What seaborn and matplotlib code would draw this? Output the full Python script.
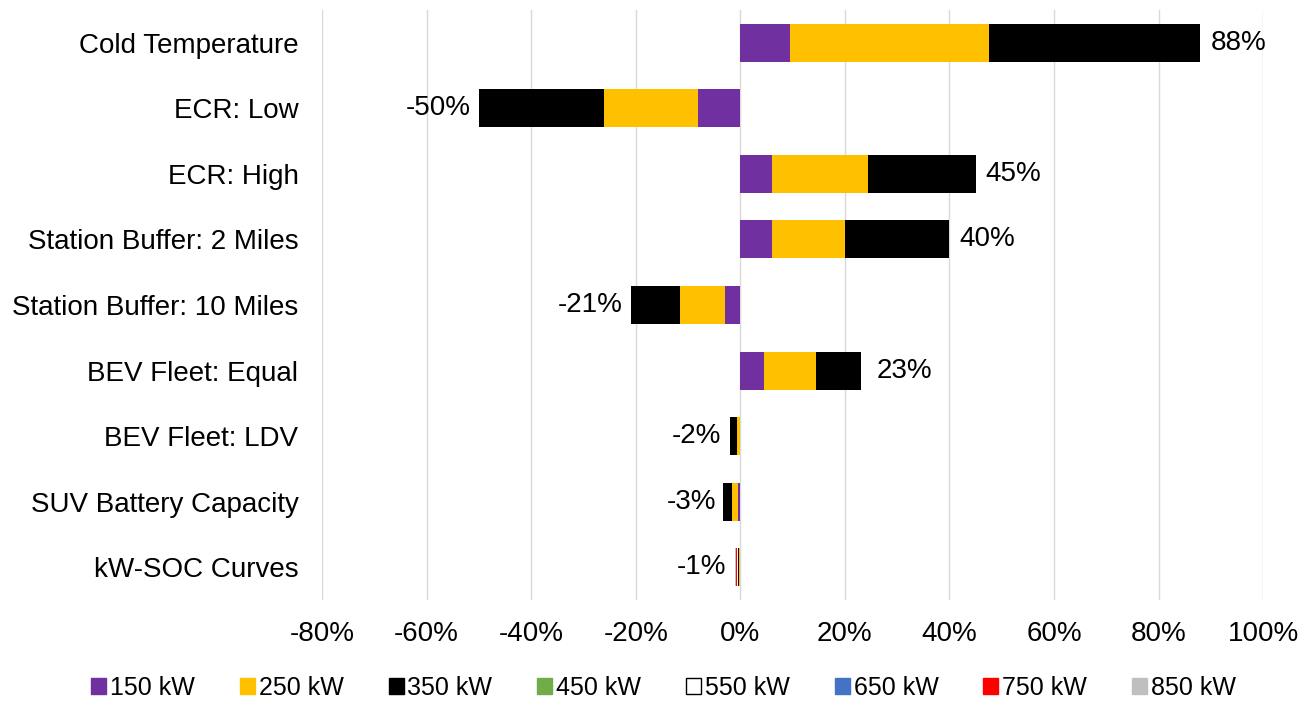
import matplotlib.pyplot as plt
import seaborn as sns
import numpy as np
import pandas as pd
from matplotlib.patches import Patch

categories = ["Cold Temperature", "ECR: Low", "ECR: High", "Station Buffer: 2 Miles",
              "Station Buffer: 10 Miles", "BEV Fleet: Equal", "BEV Fleet: LDV",
              "SUV Battery Capacity", "kW-SOC Curves"]
series = ["150 kW", "250 kW", "350 kW", "450 kW", "550 kW", "650 kW", "750 kW", "850 kW"]
colors = ["#7030A0", "#FFC000", "#000000", "#70AD47", "#FFFFFF", "#4472C4", "#FF0000", "#BFBFBF"]

# percentage change per charger power level
kw150 = [9.5, -8.0, 6.0, 6.0, -3.0, 4.5, -0.1, -0.5, -0.1]
kw250 = [38.0, -18.0, 18.5, 14.0, -8.5, 10.0, -0.5, -1.1, -0.1]
kw350 = [40.5, -24.0, 20.5, 20.0, -9.5, 8.5, -1.4, -1.7, -0.15]
kw450 = [0, 0, 0, 0, 0, 0, 0, 0, -0.15]
kw550 = [0, 0, 0, 0, 0, 0, 0, 0, -0.1]
kw650 = [0, 0, 0, 0, 0, 0, 0, 0, -0.1]
kw750 = [0, 0, 0, 0, 0, 0, 0, 0, -0.1]
kw850 = [0, 0, 0, 0, 0, 0, 0, 0, -0.2]
totals = [88, -50, 45, 40, -21, 23, -2, -3, -1]

df = pd.DataFrame({"cat": categories, "150 kW": kw150, "250 kW": kw250, "350 kW": kw350,
                   "450 kW": kw450, "550 kW": kw550, "650 kW": kw650,
                   "750 kW": kw750, "850 kW": kw850})
cum = df[series].cumsum(axis=1)

sns.set_style("white")
plt.rcParams["font.family"] = ["Arial", "Liberation Sans", "DejaVu Sans"]
plt.rcParams["text.color"] = "black"
plt.rcParams["xtick.color"] = "black"
plt.rcParams["ytick.color"] = "black"

fig, ax = plt.subplots(figsize=(13.09, 7.02), dpi=100)
ax.set_axisbelow(True)
ax.grid(axis="x", color="#D9D9D9", linewidth=1)

# stacked bars: draw cumulative sums from outermost to innermost
for s, c in reversed(list(zip(series, colors))):
    sns.barplot(x=cum[s], y=df["cat"], orient="h", color=c, width=0.58,
                linewidth=0, saturation=1, ax=ax)

for i, t in enumerate(totals):
    if t >= 0:
        ax.text(t + (3.0 if t == 23 else 1.9), i, f"{t}%", va="center", ha="left", fontsize=20)
    else:
        ax.text(t - 1.6, i, f"{t}%", va="center", ha="right", fontsize=20)

ax.set_xlim(-80, 100)
ax.set_xticks(np.arange(-80, 101, 20))
ax.set_xticklabels([f"{v}%" for v in range(-80, 101, 20)], fontsize=20)
ax.tick_params(axis="y", labelsize=20, length=0, pad=17)
ax.tick_params(axis="x", length=0, pad=15)
ax.set_xlabel("")
ax.set_ylabel("")
sns.despine(ax=ax, left=True, bottom=True)

handles = [Patch(facecolor=c, edgecolor="black" if c == "#FFFFFF" else c, label=s)
           for s, c in zip(series, colors)]
fig.legend(handles=handles, loc="center", ncol=8, frameon=False, fontsize=18,
           handlelength=0.6, handleheight=0.6, handletextpad=0.15, columnspacing=1.8,
           bbox_to_anchor=(0.507, 1 - 688 / 702))

fig.subplots_adjust(left=0.246, right=0.965, top=0.986, bottom=0.145)
fig.savefig("out.png", dpi=100)
